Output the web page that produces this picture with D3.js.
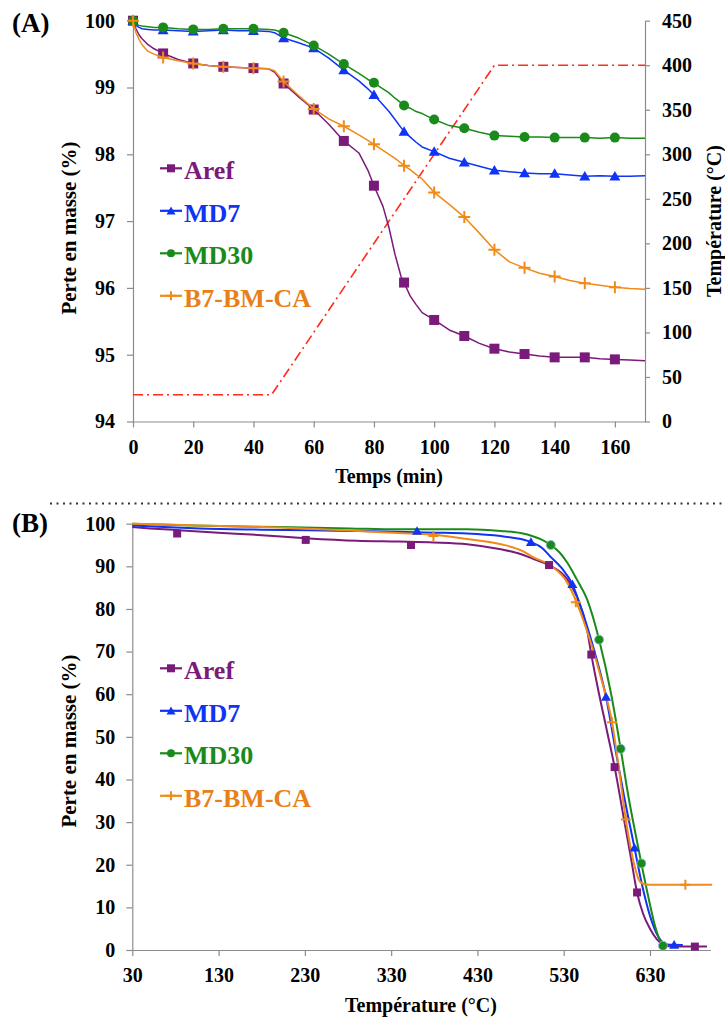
<!DOCTYPE html>
<html><head><meta charset="utf-8">
<script src="https://cdn.jsdelivr.net/npm/d3@7"></script>
<style>
body{margin:0;background:#fff}
svg{display:block}
text{font-family:"Liberation Serif","Times New Roman",serif;font-weight:bold;fill:#000}
</style>
</head><body>
<svg id="c" width="725" height="1019"></svg>
<script>
// ---------- shared ----------
const seriesNames = ["Aref", "MD7", "MD30", "B7-BM-CA"];
const seriesColors = ["#7a1b7c", "#1034f5", "#1a8a1a", "#f08a18"];
const legendTextColors = ["#7a1b7c", "#1034f5", "#1a8a1a", "#e8801a"];
const markerTypes = ["square", "triangle", "circle", "plus"];

// ---------- Panel A : mass loss vs time ----------
const timeA = [0,1,2,3,5,7,10,15,20,25,30,35,40,45,47,50,55,60,65,70,75,78,80,83,85,87,89,90,92,94,96,100,105,110,115,120,125,130,135,140,145,150,155,160,165,170];
const arefA = [100,99.88,99.79,99.73,99.64,99.58,99.51,99.42,99.36,99.33,99.31,99.30,99.29,99.28,99.23,99.06,98.86,98.67,98.45,98.20,98.02,97.76,97.53,97.22,96.90,96.50,96.17,96.08,95.88,95.75,95.63,95.52,95.37,95.28,95.17,95.09,95.04,95.01,94.98,94.96,94.96,94.96,94.94,94.93,94.92,94.91];
const md7A = [100,99.93,99.90,99.88,99.87,99.86,99.86,99.85,99.84,99.85,99.86,99.85,99.85,99.84,99.82,99.74,99.67,99.59,99.44,99.26,99.10,98.98,98.89,98.74,98.64,98.52,98.40,98.34,98.26,98.18,98.11,98.04,97.94,97.88,97.82,97.76,97.74,97.72,97.71,97.71,97.69,97.67,97.68,97.67,97.67,97.68];
const md30A = [100,99.95,99.93,99.92,99.91,99.90,99.90,99.88,99.87,99.87,99.88,99.88,99.88,99.87,99.86,99.82,99.74,99.63,99.50,99.35,99.21,99.12,99.07,98.98,98.92,98.84,98.77,98.73,98.69,98.64,98.61,98.52,98.43,98.39,98.33,98.28,98.27,98.26,98.26,98.25,98.25,98.25,98.24,98.25,98.24,98.24];
const b7A = [100,99.82,99.72,99.64,99.54,99.50,99.45,99.40,99.36,99.33,99.31,99.30,99.29,99.28,99.25,99.09,98.88,98.68,98.53,98.42,98.29,98.21,98.15,98.06,98.00,97.94,97.87,97.83,97.77,97.70,97.63,97.43,97.25,97.06,96.82,96.57,96.39,96.30,96.22,96.17,96.11,96.07,96.04,96.01,95.99,95.98];
const tempTime = [0, 46, 120, 170];
const tempVal = [30, 30, 400, 400];
const markerTimesA = [0,10,20,30,40,50,60,70,80,90,100,110,120,130,140,150,160];
const xTicksA = [0,20,40,60,80,100,120,140,160];
const yTicksA = [94,95,96,97,98,99,100];
const y2TicksA = [0,50,100,150,200,250,300,350,400,450];

// ---------- Panel B : mass loss vs temperature ----------
const arefBT = [30,50,82,130,180,231,290,338,379,418,457,480,495,513,534,545,557,562,570,580,589,600,608,615,622,630,638,645,652,670,696];
const arefBM = [99.2,98.9,98.5,97.9,97.3,96.6,96.0,95.8,95.6,95.2,94.0,92.9,91.7,90.3,87.0,83.0,75.2,69.3,61.0,51.5,42.9,30.5,21.5,13.5,8.5,5.0,2.5,1.3,0.9,0.8,0.8];
const md7BT = [30,60,108,180,282,338,379,418,457,475,492,505,514,528,540,548,557,565,579,590,600,612,620,630,640,650,668];
const md7BM = [99.6,99.3,98.9,98.6,98.3,98.1,97.9,97.7,97.1,96.6,95.7,94.3,92.4,89.5,85.8,81.5,76.0,70.5,59.4,47.0,36.0,24.0,16.0,8.0,3.0,1.3,1.2];
const md30BT = [30,100,200,282,338,418,457,480,495,505,515,525,534,545,557,571,585,596,605,612,620,628,636,642,648];
const md30BM = [100,99.6,99.2,98.9,98.7,98.7,98.3,97.8,97.0,96.2,95.0,93.3,90.9,87.0,82.3,72.8,60.0,47.2,36.0,28.5,20.3,12.5,5.5,2.0,1.0];
const b7BT = [30,108,200,282,338,379,418,457,480,495,514,534,545,560,575,586,595,602,608,613,617,621,628,640,671,702];
const b7BM = [100,99.6,99.1,98.4,97.8,97.4,96.4,95.2,93.8,92.1,90.3,86.2,81.5,73.0,62.5,53.4,41.0,30.6,23.5,19.0,16.5,15.6,15.3,15.3,15.3,15.3];
const arefMarkT = [82,231,353,513,562,589,615,682];
const arefMarkM = [97.7,96.2,95.0,90.3,69.3,42.9,13.5,0.8];
const md7MarkT = [360,492,540,579,612,658];
const md7MarkM = [98.3,95.7,85.8,59.4,24.0,1.2];
const md30MarkT = [515,571,596,620,645];
const md30MarkM = [95.0,72.8,47.2,20.3,1.0];
const b7MarkT = [379,544,586,602,671];
const b7MarkM = [97.1,81.6,53.4,30.6,15.3];
const xTicksB = [30,130,230,330,430,530,630];
const yTicksB = [0,10,20,30,40,50,60,70,80,90,100];

// ---------- drawing ----------
const svg = d3.select("#c");
const AXIS = "#8c8c8c";
const fmt = d3.format("d");

function marker(g, type, x, y, s, color, extraStroke) {
  if (type === "plus") {
    const h = s / 2;
    g.append("path").attr("d", `M${x-h},${y}H${x+h}M${x},${y-h}V${y+h}`)
      .attr("stroke", color).attr("stroke-width", 2).attr("fill", "none");
  } else {
    const map = {square: d3.symbolSquare, triangle: d3.symbolTriangle, circle: d3.symbolCircle};
    let area = type === "square" ? s*s : type === "circle" ? Math.PI*(s/2)*(s/2) : (Math.sqrt(3)/4)*s*s;
    const p = g.append("path").attr("d", d3.symbol().type(map[type]).size(area)())
      .attr("transform", `translate(${x},${y + (type==="triangle" ? 1 : 0)})`).attr("fill", color);
    if (extraStroke) p.attr("stroke", extraStroke).attr("stroke-width", 0.8);
  }
}

function styleAxis(g) {
  g.attr("font-family", null).attr("font-size", null);
  g.selectAll("path.domain").attr("stroke", AXIS).attr("stroke-width", 1.2);
  g.selectAll(".tick line").attr("stroke", AXIS).attr("stroke-width", 1.2);
  g.selectAll(".tick text").attr("font-size", 20).attr("font-weight", "bold").attr("fill", "#000");
}

// ===== Panel A =====
const xA = d3.scaleLinear().domain([0, 170]).range([133, 645]);
const yA = d3.scaleLinear().domain([94, 100]).range([421.5, 20.7]);
const y2A = d3.scaleLinear().domain([0, 450]).range([421.5, 20.7]);

const gxA = svg.append("g").attr("transform", "translate(0,421.5)")
  .call(d3.axisBottom(xA).tickValues(xTicksA).tickFormat(fmt).tickSizeInner(6).tickSizeOuter(0).tickPadding(12));
styleAxis(gxA);
const gyA = svg.append("g").attr("transform", "translate(133,0)")
  .call(d3.axisLeft(yA).tickValues(yTicksA).tickFormat(fmt).tickSizeInner(6).tickSizeOuter(0).tickPadding(12));
styleAxis(gyA);
const gy2A = svg.append("g").attr("transform", "translate(645,0)")
  .call(d3.axisRight(y2A).tickValues(y2TicksA).tickFormat(fmt).tickSizeInner(5).tickSizeOuter(0).tickPadding(12));
styleAxis(gy2A);

// temperature program
const tempLine = d3.line().x((d, i) => xA(tempTime[i])).y((d, i) => y2A(tempVal[i]));
svg.append("path").attr("d", tempLine(tempTime)).attr("fill", "none")
  .attr("stroke", "#ff2a1a").attr("stroke-width", 1.6).attr("stroke-dasharray", "10,4,2,4");

const dataA = [arefA, md7A, md30A, b7A];
const mSizeA = [10, 11, 10, 12];
dataA.forEach((vals, si) => {
  const line = d3.line().x((d, i) => xA(timeA[i])).y(d => yA(d));
  svg.append("path").attr("d", line(vals)).attr("fill", "none")
    .attr("stroke", seriesColors[si]).attr("stroke-width", 1.5).attr("stroke-linejoin", "round");
  const g = svg.append("g");
  markerTimesA.forEach(t => {
    const idx = timeA.indexOf(t);
    marker(g, markerTypes[si], xA(t), yA(vals[idx]), mSizeA[si], seriesColors[si]);
  });
});

// ===== Panel B =====
const xB = d3.scaleLinear().domain([30, 700]).range([132.3, 710.4]);
const yB = d3.scaleLinear().domain([0, 100]).range([950, 523.7]);
const gxB = svg.append("g").attr("transform", "translate(0,950)")
  .call(d3.axisBottom(xB).tickValues(xTicksB).tickFormat(fmt).tickSizeInner(6).tickSizeOuter(0).tickPadding(12));
styleAxis(gxB);
const gyB = svg.append("g").attr("transform", "translate(132.3,0)")
  .call(d3.axisLeft(yB).tickValues(yTicksB).tickFormat(fmt).tickSizeInner(6).tickSizeOuter(0).tickPadding(11));
styleAxis(gyB);

const dataBT = [arefBT, md7BT, md30BT, b7BT];
const dataBM = [arefBM, md7BM, md30BM, b7BM];
const markBT = [arefMarkT, md7MarkT, md30MarkT, b7MarkT];
const markBM = [arefMarkM, md7MarkM, md30MarkM, b7MarkM];
const mSizeB = [8, 10, 9, 10];
dataBT.forEach((ts, si) => {
  const ms = dataBM[si];
  const line = d3.line().curve(d3.curveMonotoneX).x(d => xB(d)).y((d, i) => yB(ms[i]));
  svg.append("path").attr("d", line(ts)).attr("fill", "none")
    .attr("stroke", seriesColors[si]).attr("stroke-width", 2).attr("stroke-linejoin", "round");
});
dataBT.forEach((ts, si) => {
  const g = svg.append("g");
  markBT[si].forEach((t, i) => {
    marker(g, markerTypes[si], xB(t), yB(markBM[si][i]), mSizeB[si], seriesColors[si], si === 2 ? "#8fb8dc" : null);
  });
});

// ===== Legends =====
function legend(baselines, mSize) {
  seriesNames.forEach((name, i) => {
    const b = baselines[i];
    const ly = b - 11;
    svg.append("line").attr("x1", 160).attr("x2", 182).attr("y1", ly).attr("y2", ly)
      .attr("stroke", seriesColors[i]).attr("stroke-width", 2.2);
    marker(svg, markerTypes[i], 171, ly, mSize[i], seriesColors[i]);
    svg.append("text").attr("x", 184).attr("y", b).attr("font-size", 26)
      .style("fill", legendTextColors[i]).text(name);
  });
}
legend([179.3, 221.8, 264.3, 306.8], [8, 9, 8, 9]);
legend([679.3, 721.8, 764.3, 806.8], [8, 9, 8, 9]);

// ===== Titles & labels =====
svg.append("text").attr("x", 12).attr("y", 31.7).attr("font-size", 27).text("(A)");
svg.append("text").attr("x", 12).attr("y", 531.7).attr("font-size", 27).text("(B)");
svg.append("text").attr("x", 389).attr("y", 483.3).attr("text-anchor", "middle").attr("font-size", 20).text("Temps (min)");
svg.append("text").attr("x", 421).attr("y", 1012).attr("text-anchor", "middle").attr("font-size", 20).text("Température (°C)");
svg.append("text").attr("transform", "translate(76,228) rotate(-90)").attr("text-anchor", "middle").attr("font-size", 21).text("Perte en masse (%)");
svg.append("text").attr("transform", "translate(76,741) rotate(-90)").attr("text-anchor", "middle").attr("font-size", 21).text("Perte en masse (%)");
svg.append("text").attr("transform", "translate(721,221) rotate(-90)").attr("text-anchor", "middle").attr("font-size", 20).text("Température (°C)");

// separator
svg.append("line").attr("x1", 50).attr("x2", 725).attr("y1", 503.5).attr("y2", 503.5)
  .attr("stroke", "#333").attr("stroke-width", 2).attr("stroke-dasharray", "2,4.5");
</script>
</body></html>
